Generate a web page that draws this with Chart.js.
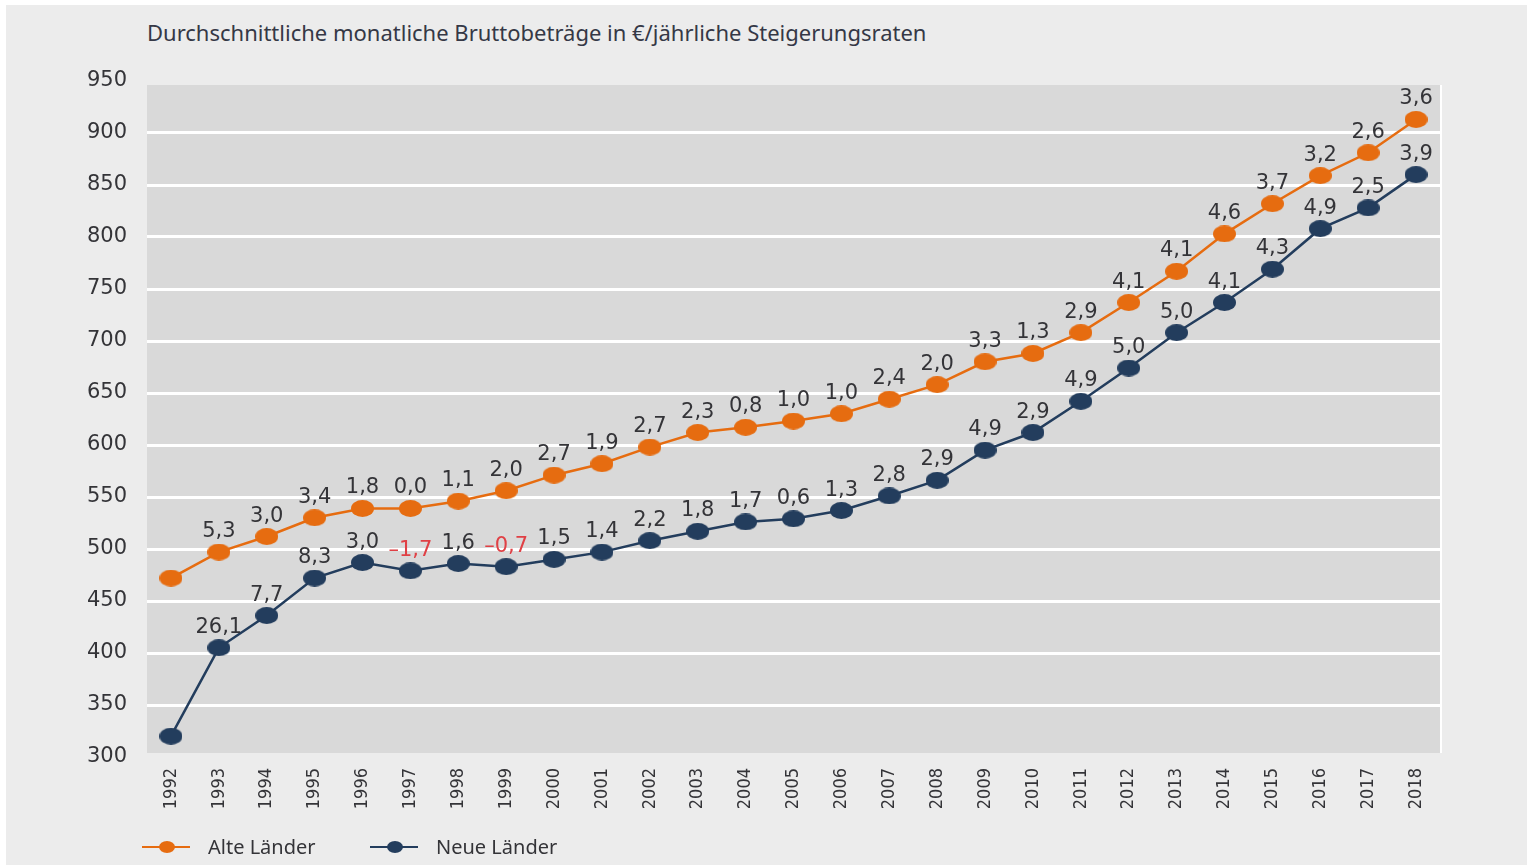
<!DOCTYPE html>
<html lang="de">
<head>
<meta charset="utf-8">
<script src="https://cdn.jsdelivr.net/npm/chart.js@4.4.1/dist/chart.umd.min.js"></script>
<style>
  html, body { margin: 0; padding: 0; background: #ffffff; }
  #panel { position: absolute; left: 6px; top: 5px; width: 1521px; height: 860px; background: #ececec; }
  #title { position: absolute; left: 141px; top: 12px; font: 22px "Noto Sans", sans-serif; color: #353846; white-space: nowrap; }
  #wrap { position: absolute; left: 0; top: 0; width: 1521px; height: 860px; }
</style>
</head>
<body>
<div id="panel">
  <div id="title">Durchschnittliche monatliche Bruttobeträge in €/jährliche Steigerungsraten</div>
  <div id="wrap"><canvas id="rentenChart"></canvas></div>
</div>
<script>
const years = ['1992', '1993', '1994', '1995', '1996', '1997', '1998', '1999', '2000', '2001', '2002', '2003', '2004',
    '2005', '2006', '2007', '2008', '2009', '2010', '2011', '2012', '2013', '2014', '2015', '2016', '2017', '2018'];

// Durchschnittliche Bruttobeträge in Euro
const alteLaender = [472, 497, 512, 530, 539, 539, 546, 556, 571, 582, 598, 612, 617, 623, 630, 644, 658, 680, 688,
    708, 737, 767, 803, 832, 859, 881, 913];
const neueLaender = [320, 405, 436, 472, 487, 479, 486, 483, 490, 497, 508, 517, 526, 529, 537, 551, 566, 595, 612,
    642, 674, 708, 737, 769, 808, 828, 860];

// jährliche Steigerungsraten in %
const alteRaten = [null, 5.3, 3.0, 3.4, 1.8, 0.0, 1.1, 2.0, 2.7, 1.9, 2.7, 2.3, 0.8, 1.0, 1.0, 2.4, 2.0, 3.3, 1.3,
    2.9, 4.1, 4.1, 4.6, 3.7, 3.2, 2.6, 3.6];
const neueRaten = [null, 26.1, 7.7, 8.3, 3.0, -1.7, 1.6, -0.7, 1.5, 1.4, 2.2, 1.8, 1.7, 0.6, 1.3, 2.8, 2.9, 4.9, 2.9,
    4.9, 5.0, 5.0, 4.1, 4.3, 4.9, 2.5, 3.9];

const yTicks = [300, 350, 400, 450, 500, 550, 600, 650, 700, 750, 800, 850, 900, 950];

const orange = '#e66c10';
const navy = '#233d5d';
const textColor = '#343438';

function ellipse(color, w, h) {
    const c = document.createElement('canvas');
    c.width = w;
    c.height = h;
    const g = c.getContext('2d');
    g.fillStyle = color;
    g.beginPath();
    g.ellipse(w / 2, h / 2, w / 2, h / 2, 0, 0, Math.PI * 2);
    g.fill();
    return c;
}

function fmt(v) {
    const s = Math.abs(v).toFixed(1).replace('.', ',');
    return v < 0 ? '\u2013' + s : s;
}

const plotBackground = {
    id: 'plotBackground',
    beforeDraw(chart) {
        const { ctx, chartArea: a } = chart;
        ctx.save();
        ctx.fillStyle = '#d9d9d9';
        ctx.fillRect(a.left, a.top + 4, a.right - a.left, a.bottom - a.top - 8);
        ctx.fillStyle = '#ffffff';
        ctx.fillRect(a.right, a.top + 4, 2, a.bottom - a.top - 8);
        ctx.restore();
    }
};

const rateLabels = {
    id: 'rateLabels',
    afterDatasetsDraw(chart) {
        const ctx = chart.ctx;
        ctx.save();
        ctx.font = '21px "DejaVu Sans", sans-serif';
        ctx.textAlign = 'center';
        ctx.textBaseline = 'alphabetic';
        [alteRaten, neueRaten].forEach((rates, di) => {
            const meta = chart.getDatasetMeta(di);
            rates.forEach((r, i) => {
                if (r === null) return;
                const p = meta.data[i];
                ctx.fillStyle = r < 0 ? '#e04045' : textColor;
                ctx.fillText(fmt(r), p.x, p.y - 15);
            });
        });
        ctx.restore();
    }
};

const lineLegend = {
    id: 'lineLegend',
    afterDraw(chart) {
        const ctx = chart.ctx;
        const a = chart.chartArea;
        const y = chart.height - 18;
        const starts = [a.left - 5, a.left + 223];
        ctx.save();
        ctx.font = '20px "Noto Sans", sans-serif';
        ctx.textBaseline = 'middle';
        chart.data.datasets.forEach((ds, i) => {
            const x = starts[i];
            ctx.strokeStyle = ds.borderColor;
            ctx.lineWidth = 2;
            ctx.beginPath();
            ctx.moveTo(x, y);
            ctx.lineTo(x + 48, y);
            ctx.stroke();
            ctx.fillStyle = ds.borderColor;
            ctx.beginPath();
            ctx.ellipse(x + 25, y, 8, 6, 0, 0, Math.PI * 2);
            ctx.fill();
            ctx.fillStyle = textColor;
            ctx.fillText(ds.label, x + 66, y + 1);
        });
        ctx.restore();
    }
};

new Chart(document.getElementById('rentenChart'), {
    type: 'line',
    data: {
        labels: years,
        datasets: [{
            label: 'Alte Länder',
            data: alteLaender,
            borderColor: orange,
            backgroundColor: orange,
            borderWidth: 2.5,
            pointStyle: ellipse(orange, 23, 17),
            tension: 0
        }, {
            label: 'Neue Länder',
            data: neueLaender,
            borderColor: navy,
            backgroundColor: navy,
            borderWidth: 2.5,
            pointStyle: ellipse(navy, 23, 17),
            tension: 0
        }]
    },
    options: {
        responsive: true,
        maintainAspectRatio: false,
        animation: false,
        layout: { padding: { left: 0, right: 87, top: 76, bottom: 0 } },
        plugins: {
            legend: { display: false },
            tooltip: { enabled: false }
        },
        scales: {
            x: {
                offset: true,
                grid: { display: false },
                border: { display: false },
                ticks: {
                    minRotation: 90,
                    maxRotation: 90,
                    padding: 3,
                    color: textColor,
                    font: { family: '"DejaVu Sans Condensed", "DejaVu Sans", sans-serif', size: 18 }
                },
                afterFit(scale) { scale.height = 108; }
            },
            y: {
                min: 300,
                max: 950,
                afterBuildTicks(scale) { scale.ticks = yTicks.map(v => ({ value: v })); },
                grid: {
                    drawTicks: false,
                    lineWidth: 3,
                    color: c => (c.tick && (c.tick.value === 300 || c.tick.value === 950)) ? 'rgba(0,0,0,0)' : '#ffffff'
                },
                border: { display: false },
                ticks: {
                    padding: 20,
                    color: textColor,
                    font: { family: '"DejaVu Sans", sans-serif', size: 21 }
                },
                afterFit(scale) { scale.width = 141; }
            }
        }
    },
    plugins: [plotBackground, rateLabels, lineLegend]
});
</script>
</body>
</html>
